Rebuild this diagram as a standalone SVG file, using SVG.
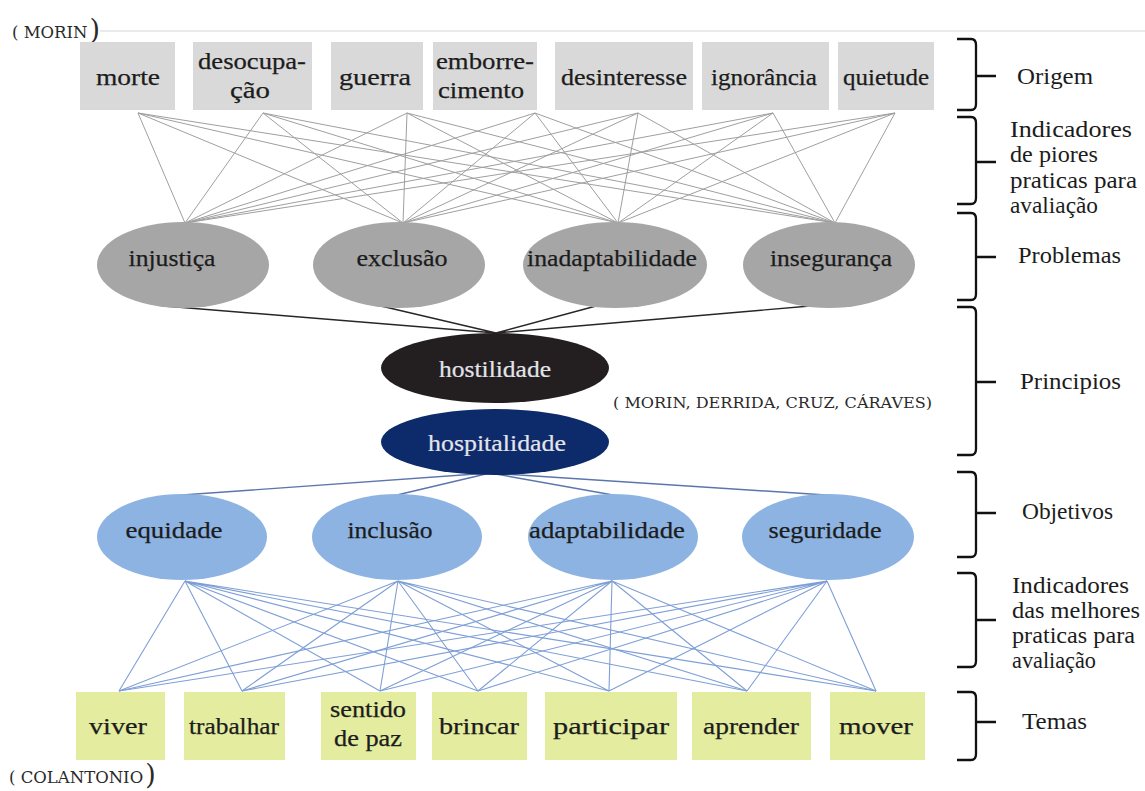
<svg xmlns="http://www.w3.org/2000/svg" width="1145" height="791" viewBox="0 0 1145 791">
  <style>
    .t { font-family: "Liberation Serif", "Times New Roman", "DejaVu Serif", serif; font-size: 24px; fill: #1c1c1c; text-anchor: middle; stroke: #1c1c1c; stroke-width: 0.25; }
    .tw { font-family: "Liberation Serif", "Times New Roman", "DejaVu Serif", serif; font-size: 24px; fill: #e4e4ea; text-anchor: middle; stroke: #e4e4ea; stroke-width: 0.2; }
    .lbl { font-family: "Liberation Serif", "Times New Roman", "DejaVu Serif", serif; font-size: 23px; fill: #1c1c1c; }
    .cite { font-family: "DejaVu Serif", "Liberation Serif", serif; font-size: 16.5px; fill: #2a2a2a; }
    .cite-s { font-family: "DejaVu Serif", "Liberation Serif", serif; font-size: 15px; fill: #2a2a2a; }
    .citep { font-family: "DejaVu Serif", "Liberation Serif", serif; font-size: 27px; fill: #2a2a2a; }
    .box-top { fill: #d9d9d9; }
    .box-bot { fill: #e3ec9f; }
    .ell-prob { fill: #a6a6a6; }
    .ell-obj { fill: #8db3e2; }
    .l-gray { stroke: #9f9f9f; stroke-width: 1; fill: none; }
    .l-dark { stroke: #262626; stroke-width: 1.4; fill: none; }
    .l-navy { stroke: #5b76ad; stroke-width: 1.4; fill: none; }
    .l-blue { stroke: #7e9fd6; stroke-width: 1.1; fill: none; }
    .brace { stroke: #111; stroke-width: 2.3; fill: none; }
  </style>

  <!-- header rule and source citation -->
  <line x1="100" y1="31" x2="1145" y2="31" stroke="#d6d6d6" stroke-width="1.2"/>
  <text class="cite" x="12" y="38">( MORIN<tspan class="citep" dx="2" dy="1">)</tspan></text>

  <!-- connectors -->
  <g id="connectors">
    <!-- origin boxes to problems -->
    <g class="l-gray">
      <path d="M138,113 L185,223 M138,113 L403,223 M138,113 L618,223 M138,113 L835,223"/>
      <path d="M263,113 L185,223 M263,113 L403,223 M263,113 L618,223 M263,113 L835,223"/>
      <path d="M407,113 L185,223 M407,113 L403,223 M407,113 L618,223 M407,113 L835,223"/>
      <path d="M535,113 L185,223 M535,113 L403,223 M535,113 L618,223 M535,113 L835,223"/>
      <path d="M638,113 L185,223 M638,113 L403,223 M638,113 L618,223 M638,113 L835,223"/>
      <path d="M773,113 L185,223 M773,113 L403,223 M773,113 L618,223 M773,113 L835,223"/>
      <path d="M895,113 L185,223 M895,113 L403,223 M895,113 L618,223 M895,113 L835,223"/>
    </g>
    <!-- problems to hostilidade -->
    <g class="l-dark">
      <path d="M164,306 L496,333 M381,306 L496,333 M596,306 L496,333 M810,306 L496,333"/>
    </g>
    <!-- hospitalidade to objectives -->
    <g class="l-navy">
      <path d="M490,473 L182,495 M490,473 L397,495 M490,473 L613,495 M490,473 L826,495"/>
    </g>
    <!-- objectives to themes -->
    <g class="l-blue">
      <path d="M185,581 L119,691 M185,581 L242,691 M185,581 L380,691 M185,581 L478,691 M185,581 L609,691 M185,581 L747,691 M185,581 L876,691"/>
      <path d="M398,581 L119,691 M398,581 L242,691 M398,581 L380,691 M398,581 L478,691 M398,581 L609,691 M398,581 L747,691 M398,581 L876,691"/>
      <path d="M612,581 L119,691 M612,581 L242,691 M612,581 L380,691 M612,581 L478,691 M612,581 L609,691 M612,581 L747,691 M612,581 L876,691"/>
      <path d="M827,581 L119,691 M827,581 L242,691 M827,581 L380,691 M827,581 L478,691 M827,581 L609,691 M827,581 L747,691 M827,581 L876,691"/>
    </g>
  </g>

  <!-- origin row -->
  <g id="morte"><rect class="box-top" x="80" y="42" width="95" height="68"/><text class="t" x="128" y="85" textLength="64" lengthAdjust="spacingAndGlyphs">morte</text></g>
  <g id="desocupacao"><rect class="box-top" x="193" y="42" width="119" height="68"/><text class="t" x="252" y="69" textLength="108" lengthAdjust="spacingAndGlyphs">desocupa-</text><text class="t" x="250" y="98" textLength="40" lengthAdjust="spacingAndGlyphs">ção</text></g>
  <g id="guerra"><rect class="box-top" x="331" y="42" width="92" height="68"/><text class="t" x="375" y="85" textLength="72" lengthAdjust="spacingAndGlyphs">guerra</text></g>
  <g id="emborrecimento"><rect class="box-top" x="433" y="42" width="104" height="68"/><text class="t" x="485" y="69" textLength="98" lengthAdjust="spacingAndGlyphs">emborre-</text><text class="t" x="481" y="98" textLength="86" lengthAdjust="spacingAndGlyphs">cimento</text></g>
  <g id="desinteresse"><rect class="box-top" x="555" y="42" width="138" height="68"/><text class="t" x="624" y="85" textLength="126" lengthAdjust="spacingAndGlyphs">desinteresse</text></g>
  <g id="ignorancia"><rect class="box-top" x="702" y="42" width="127" height="68"/><text class="t" x="764" y="85" textLength="106" lengthAdjust="spacingAndGlyphs">ignorância</text></g>
  <g id="quietude"><rect class="box-top" x="838" y="42" width="96" height="68"/><text class="t" x="886" y="85" textLength="86" lengthAdjust="spacingAndGlyphs">quietude</text></g>

  <!-- problems -->
  <g id="injustica"><ellipse class="ell-prob" cx="183" cy="265" rx="86" ry="43"/><text class="t" x="172" y="266" textLength="87" lengthAdjust="spacingAndGlyphs">injustiça</text></g>
  <g id="exclusao"><ellipse class="ell-prob" cx="399" cy="265" rx="86" ry="43"/><text class="t" x="402" y="266" textLength="91" lengthAdjust="spacingAndGlyphs">exclusão</text></g>
  <g id="inadaptabilidade"><ellipse class="ell-prob" cx="615" cy="265" rx="92" ry="43"/><text class="t" x="612" y="266" textLength="170" lengthAdjust="spacingAndGlyphs">inadaptabilidade</text></g>
  <g id="inseguranca"><ellipse class="ell-prob" cx="829" cy="265" rx="86" ry="43"/><text class="t" x="831" y="266" textLength="122" lengthAdjust="spacingAndGlyphs">insegurança</text></g>

  <!-- principles -->
  <g id="hostilidade"><ellipse cx="495" cy="368" rx="114" ry="35" fill="#231f20"/><text class="tw" x="495" y="377" textLength="112" lengthAdjust="spacingAndGlyphs">hostilidade</text></g>
  <g id="hospitalidade"><ellipse cx="495" cy="442" rx="114" ry="33" fill="#0d2a6b"/><text class="tw" x="497" y="451" textLength="138" lengthAdjust="spacingAndGlyphs">hospitalidade</text></g>
  <text class="cite-s" x="613" y="408" textLength="319" lengthAdjust="spacingAndGlyphs">( MORIN, DERRIDA, CRUZ, CÁRAVES)</text>

  <!-- objectives -->
  <g id="equidade"><ellipse class="ell-obj" cx="182" cy="537" rx="85" ry="43"/><text class="t" x="174" y="538" textLength="97" lengthAdjust="spacingAndGlyphs">equidade</text></g>
  <g id="inclusao"><ellipse class="ell-obj" cx="397" cy="537" rx="85" ry="43"/><text class="t" x="390" y="538" textLength="85" lengthAdjust="spacingAndGlyphs">inclusão</text></g>
  <g id="adaptabilidade"><ellipse class="ell-obj" cx="613" cy="537" rx="85" ry="43"/><text class="t" x="607" y="538" textLength="156" lengthAdjust="spacingAndGlyphs">adaptabilidade</text></g>
  <g id="seguridade"><ellipse class="ell-obj" cx="828" cy="537" rx="86" ry="43"/><text class="t" x="825" y="538" textLength="113" lengthAdjust="spacingAndGlyphs">seguridade</text></g>

  <!-- themes row -->
  <g id="viver"><rect class="box-bot" x="76" y="692" width="89" height="68"/><text class="t" x="118" y="734" textLength="58" lengthAdjust="spacingAndGlyphs">viver</text></g>
  <g id="trabalhar"><rect class="box-bot" x="184" y="692" width="101" height="68"/><text class="t" x="234" y="734" textLength="90" lengthAdjust="spacingAndGlyphs">trabalhar</text></g>
  <g id="sentido-de-paz"><rect class="box-bot" x="321" y="692" width="95" height="68"/><text class="t" x="368" y="717" textLength="76" lengthAdjust="spacingAndGlyphs">sentido</text><text class="t" x="368" y="746" textLength="68" lengthAdjust="spacingAndGlyphs">de paz</text></g>
  <g id="brincar"><rect class="box-bot" x="432" y="692" width="95" height="68"/><text class="t" x="479" y="734" textLength="80" lengthAdjust="spacingAndGlyphs">brincar</text></g>
  <g id="participar"><rect class="box-bot" x="545" y="692" width="132" height="68"/><text class="t" x="611" y="734" textLength="116" lengthAdjust="spacingAndGlyphs">participar</text></g>
  <g id="aprender"><rect class="box-bot" x="692" y="692" width="119" height="68"/><text class="t" x="751" y="734" textLength="96" lengthAdjust="spacingAndGlyphs">aprender</text></g>
  <g id="mover"><rect class="box-bot" x="830" y="692" width="95" height="68"/><text class="t" x="876" y="734" textLength="74" lengthAdjust="spacingAndGlyphs">mover</text></g>
  <text class="cite" x="9" y="783">( COLANTONIO<tspan class="citep" dx="2" dy="1">)</tspan></text>

  <!-- level braces and labels -->
  <g id="lvl-origem">
    <path class="brace" d="M957,39 H971 Q976,39 976,45 V104 Q976,110 971,110 H957 M976,76 H996"/>
    <text class="lbl" x="1017" y="84" textLength="76" lengthAdjust="spacingAndGlyphs">Origem</text>
  </g>
  <g id="lvl-piores">
    <path class="brace" d="M957,117 H971 Q976,117 976,123 V198 Q976,204 971,204 H957 M976,162 H996"/>
    <text class="lbl" x="1010" y="137" textLength="122" lengthAdjust="spacingAndGlyphs">Indicadores</text>
    <text class="lbl" x="1010" y="162" textLength="88" lengthAdjust="spacingAndGlyphs">de piores</text>
    <text class="lbl" x="1010" y="188" textLength="127" lengthAdjust="spacingAndGlyphs">praticas para</text>
    <text class="lbl" x="1010" y="213" textLength="88" lengthAdjust="spacingAndGlyphs">avaliação</text>
  </g>
  <g id="lvl-problemas">
    <path class="brace" d="M957,213 H971 Q976,213 976,219 V294 Q976,300 971,300 H957 M976,257 H996"/>
    <text class="lbl" x="1018" y="263" textLength="103" lengthAdjust="spacingAndGlyphs">Problemas</text>
  </g>
  <g id="lvl-principios">
    <path class="brace" d="M957,307 H971 Q976,307 976,313 V449 Q976,455 971,455 H957 M976,382 H996"/>
    <text class="lbl" x="1020" y="389" textLength="101" lengthAdjust="spacingAndGlyphs">Principios</text>
  </g>
  <g id="lvl-objetivos">
    <path class="brace" d="M957,472 H971 Q976,472 976,478 V551 Q976,557 971,557 H957 M976,513 H996"/>
    <text class="lbl" x="1022" y="519" textLength="91" lengthAdjust="spacingAndGlyphs">Objetivos</text>
  </g>
  <g id="lvl-melhores">
    <path class="brace" d="M957,573 H971 Q976,573 976,579 V661 Q976,667 971,667 H957 M976,620 H996"/>
    <text class="lbl" x="1012" y="593" textLength="117" lengthAdjust="spacingAndGlyphs">Indicadores</text>
    <text class="lbl" x="1012" y="618" textLength="128" lengthAdjust="spacingAndGlyphs">das melhores</text>
    <text class="lbl" x="1012" y="643" textLength="123" lengthAdjust="spacingAndGlyphs">praticas para</text>
    <text class="lbl" x="1012" y="668" textLength="84" lengthAdjust="spacingAndGlyphs">avaliação</text>
  </g>
  <g id="lvl-temas">
    <path class="brace" d="M957,692 H971 Q976,692 976,698 V754 Q976,760 971,760 H957 M976,722 H996"/>
    <text class="lbl" x="1022" y="729" textLength="65" lengthAdjust="spacingAndGlyphs">Temas</text>
  </g>
</svg>
